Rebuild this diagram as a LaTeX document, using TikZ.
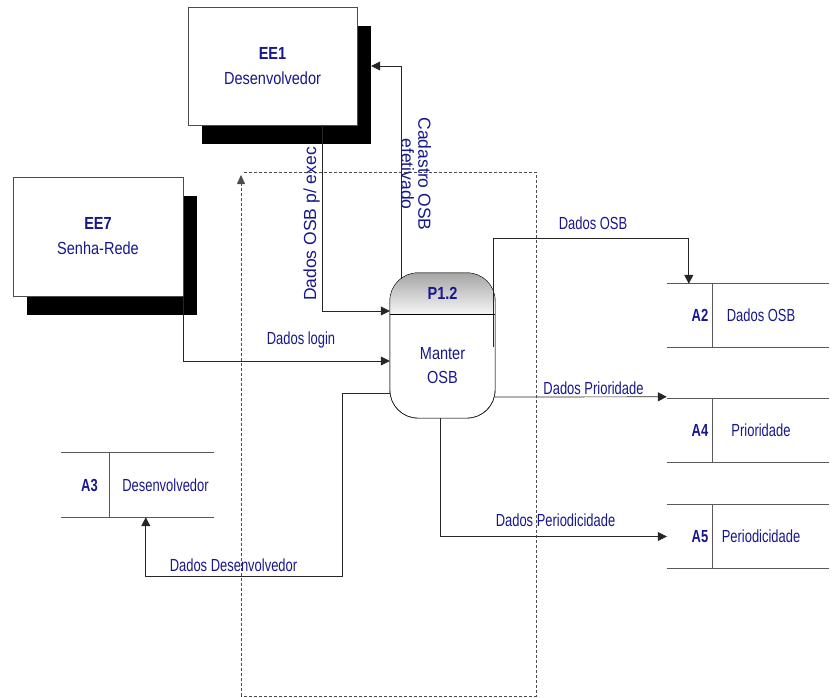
\documentclass[tikz,border=0pt]{standalone}
\usepackage{fontspec}
\setmainfont{Liberation Sans}
\newfontfamily\narrowfont[FakeStretch=0.74]{Liberation Sans}
\newfontfamily\boxfont[FakeStretch=0.83]{Liberation Sans}
\usetikzlibrary{arrows.meta,shadows}
\definecolor{dfdblue}{RGB}{24,24,140}
\tikzset{
	entidade/.style={draw=black!70, fill=white, thin, minimum width=169pt, minimum height=118pt, inner sep=0pt, align=center, text=dfdblue, font=\boxfont\fontsize{17.5}{25}\selectfont, general shadow={fill=black, shadow xshift=14pt, shadow yshift=-19pt}},
	processo/.style={draw=black, thin, fill=white, rounded corners=28pt, minimum width=105pt, minimum height=145pt, inner sep=0pt},
	deposito/.style={minimum width=162pt, minimum height=63pt, inner sep=0pt},
	rotulo/.style={text=dfdblue, font=\narrowfont\fontsize{17.5}{20}\selectfont, inner sep=1pt},
	fluxo/.style={draw=black!85, line width=0.7pt, -{Triangle[length=9pt,width=9pt]}},
	linha/.style={draw=black!65, line width=0.7pt},
}
\begin{document}
\begin{tikzpicture}[x=1pt,y=-1pt]
	\useasboundingbox (0,0) rectangle (832,698);
	
	% fronteira
	{
		\draw[black!70, thin, dash pattern=on 3pt off 2pt, -{Triangle[length=9pt,width=8pt]}] (241,696) -- (241,175);
		\draw[black!70, thin, dash pattern=on 3pt off 2pt] (244,172) -| (536,696) -- (241,696);
	}
	
	% entidades externas
	{
		\node[entidade] (EE1) at (272.5,66) {\textbf{EE1}\\Desenvolvedor};
		\node[entidade, minimum width=170pt, minimum height=119pt] (EE7) at (98,236.5) {\textbf{EE7}\\Senha-Rede};
	}
	
	% processo
	{
		\node[processo] (P) at (442.5,345.5) {};
		\begin{scope}
			\clip[rounded corners=28pt] (P.north west) rectangle (P.south east);
			\shade[top color=black!35, bottom color=black!4] (P.north west) rectangle ([yshift=-41pt]P.north east);
		\end{scope}
		\draw[rounded corners=28pt, thin] (P.north west) rectangle (P.south east);
		\draw[thin] ([yshift=-41pt]P.north west) -- ([yshift=-41pt]P.north east);
		\node[rotulo, font=\boxfont\fontsize{17.5}{24}\selectfont] (Pnum) at ([yshift=-21pt]P.north) {\textbf{P1.2}};
		\node[rotulo, font=\boxfont\fontsize{17.5}{24}\selectfont, align=center] (Pnome) at ([yshift=-20.5pt]P.center) {Manter\\OSB};
	}
	
	% depositos
	{
		\node[deposito] (A2) at (748,315.5) {};
		\node[deposito] (A4) at (748,430.5) {};
		\node[deposito] (A5) at (748,536.5) {};
		\node[deposito, minimum width=153pt, minimum height=64pt] (A3) at (137.5,485) {};
		
		\foreach \d/\nome in {A2/Dados OSB, A4/Prioridade, A5/Periodicidade} {
			\draw[linha] (\d.north west) -- (\d.north east);
			\draw[linha] (\d.south west) -- (\d.south east);
			\draw[linha] ([xshift=-36pt]\d.north) -- ([xshift=-36pt]\d.south);
			\node[rotulo] (\d id) at ([xshift=-48pt]\d.center) {\textbf{\d}};
			\node[rotulo] (\d nome) at ([xshift=13pt]\d.center) {\nome};
		}
		
		\draw[linha] (A3.north west) -- (A3.north east);
		\draw[linha] (A3.south west) -- (A3.south east);
		\draw[linha] ([xshift=-28.5pt]A3.north) -- ([xshift=-28.5pt]A3.south);
		\node[rotulo] (A3id) at ([xshift=-48pt]A3.center) {\textbf{A3}};
		\node[rotulo] (A3nome) at ([xshift=28pt]A3.center) {Desenvolvedor};
	}
	
	% fluxos
	{
		\draw[fluxo] ([xshift=49.5pt]EE1.south) |- ([yshift=34.5pt]P.west);
		\draw[fluxo] ([xshift=-41.5pt,yshift=-6pt]P.north) |- ([xshift=14pt]EE1.east);
		\draw[fluxo] (EE7.south east) |- ([yshift=-15.5pt]P.west);
		\draw[fluxo] ([xshift=-2pt,yshift=-1.5pt]P.east) |- ([xshift=22pt,yshift=45pt]A2.north west) -- ([xshift=22pt]A2.north west);
		\draw[fluxo] ([yshift=-51.5pt]P.east) -- ([yshift=2pt]A4.north west);
		\draw[fluxo] ([xshift=-2.5pt]P.south) |- (A5.west);
		\draw[fluxo] ([yshift=-47.5pt]P.west) -- ++(-47,0) |- ([xshift=85pt,yshift=-59pt]A3.south west) -- ([xshift=85pt]A3.south west);
	}
	
	% rotulos dos fluxos
	{
		\node[rotulo, font=\rmfamily\fontsize{17.5}{17}\selectfont, rotate=90] (f1) at (311.5,224) {Dados OSB p/ exec};
		\node[rotulo, font=\rmfamily\fontsize{17.5}{17}\selectfont, rotate=-90, align=center] (f2) at (416,174) {Cadastro OSB\\efetivado};
		\node[rotulo] (f3) at (301,340) {Dados login};
		\node[rotulo] (f4) at (593,223) {Dados OSB};
		\node[rotulo] (f5) at (593.5,388) {Dados Prioridade};
		\node[rotulo] (f6) at (555.5,520) {Dados Periodicidade};
		\node[rotulo] (f7) at (233.5,565) {Dados Desenvolvedor};
	}
	
\end{tikzpicture}
\end{document}
